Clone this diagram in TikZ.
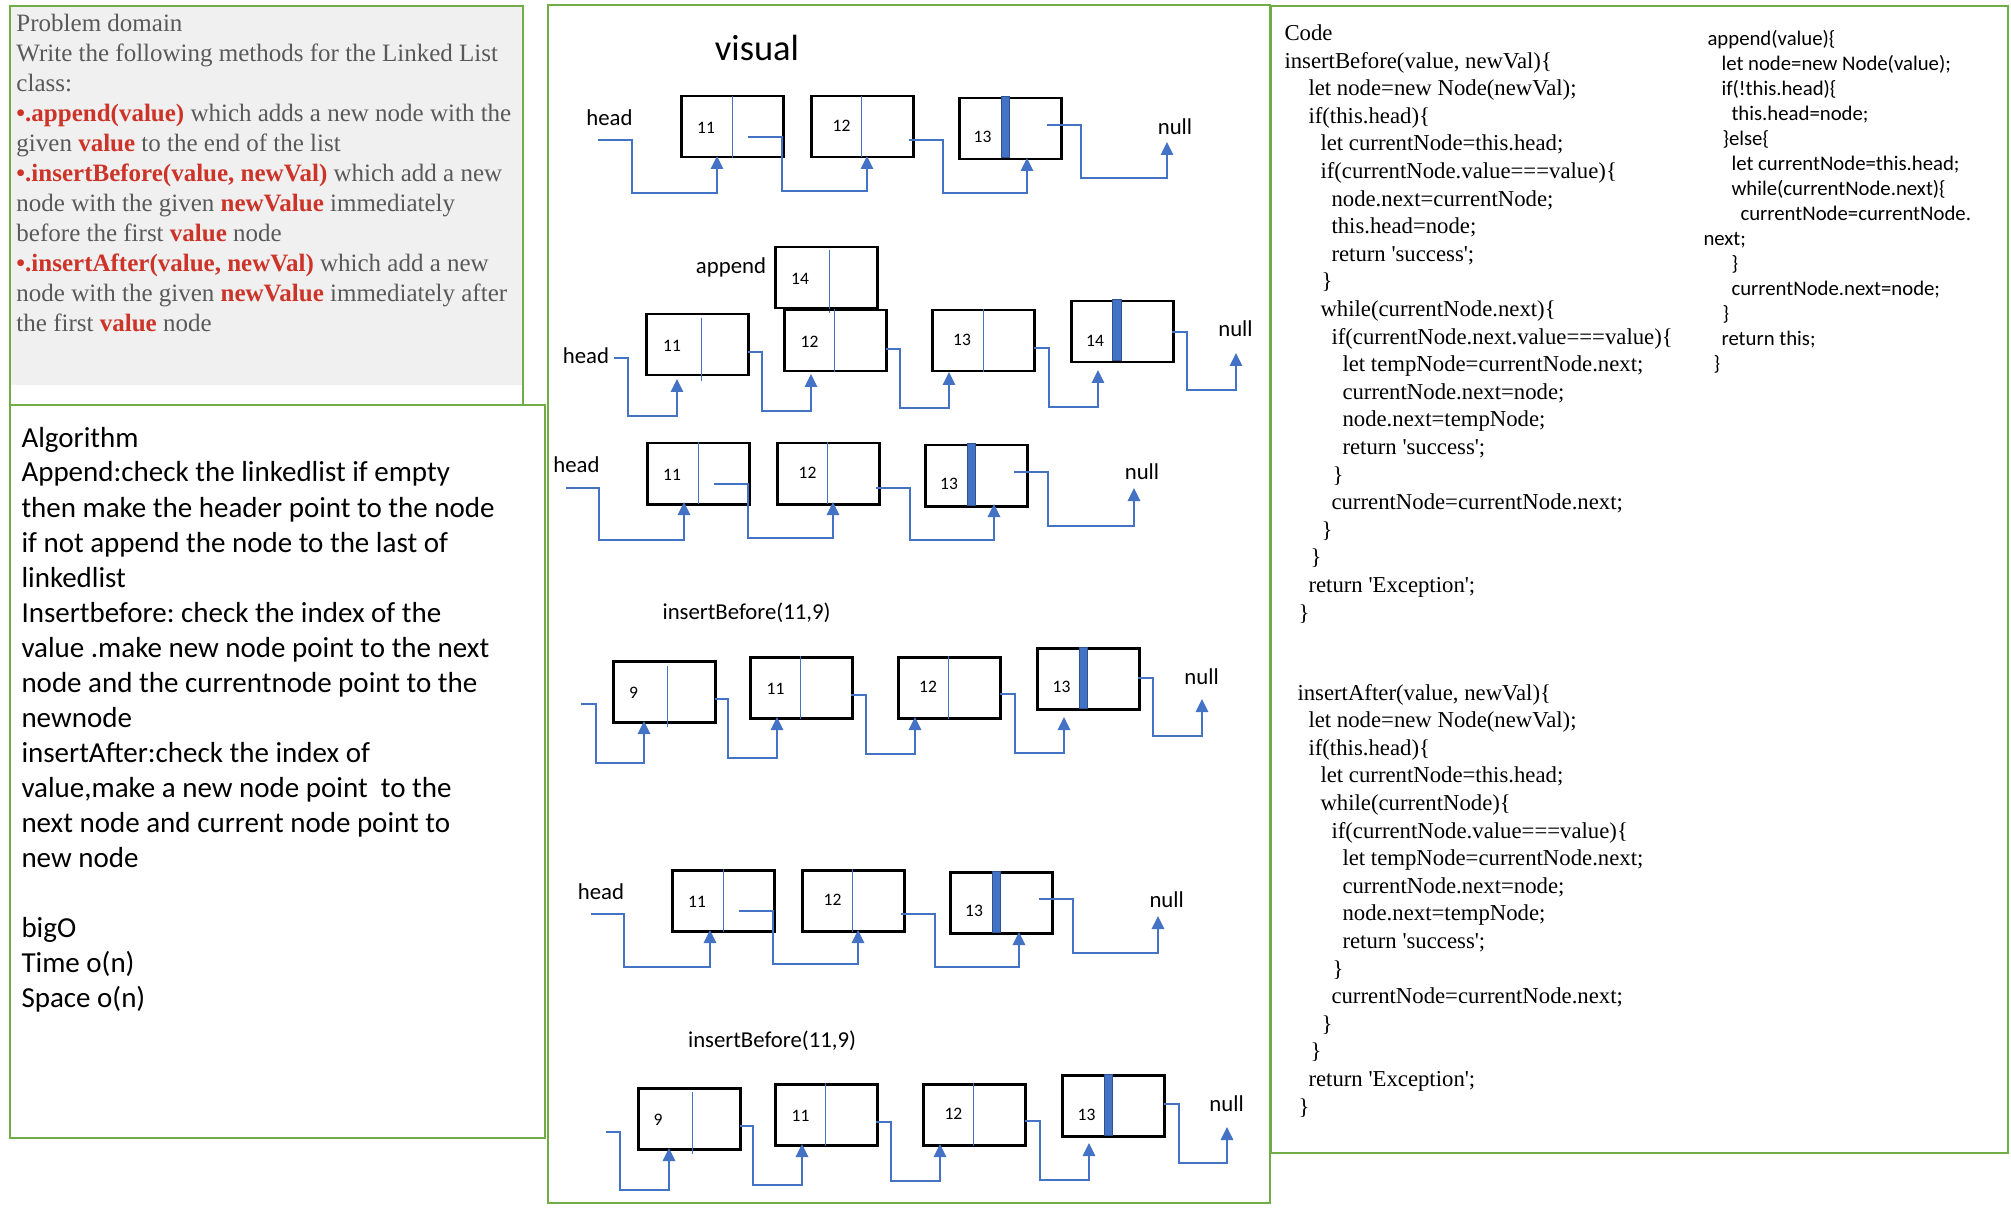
\documentclass[tikz,border=0pt]{standalone}
\usepackage{fontspec}
\setmainfont{Liberation Serif}
\newfontfamily\calibri{Carlito}
\usetikzlibrary{arrows.meta}
\definecolor{pgreen}{RGB}{112,173,71}
\definecolor{pgrey}{RGB}{240,240,240}
\definecolor{ptext}{RGB}{89,89,89}
\definecolor{pred}{RGB}{205,52,41}
\definecolor{lblue}{RGB}{68,114,196}
\definecolor{dblue}{RGB}{47,82,143}
\newcommand\myq{\textquotesingle}
\newcommand\rb[1]{\textcolor{pred}{\textbf{#1}}}
\newcommand\txtline[5]{\node[#2] (#1) at (#3,#4) {#5};}
\newcommand\lnk[7]{%
  \coordinate (#1s) at (#2,#3);
  \coordinate (#1t) at (#6,#7);
  \draw[link] (#1s) -- (#4,#3) -- (#4,#5) -- (#6,#5) -- (#1t);}
\frenchspacing
\begin{document}
\begin{tikzpicture}[x=0.4pt,y=-0.4pt,
  panel/.style={draw=pgreen, line width=0.9pt},
  nbox/.style={draw=black, line width=1pt, minimum width=40.8pt, minimum height=24.4pt, inner sep=0pt, anchor=north west},
  link/.style={draw=lblue, line width=0.55pt, -{Triangle[length=5.2pt,width=5pt]}},
  divider/.style={draw=lblue, line width=0.4pt},
  bar/.style={fill=lblue, draw=dblue, line width=0.4pt},
  lbl/.style={font=\calibri\fontsize{9.1pt}{11pt}\selectfont, inner sep=0pt},
  ttl/.style={font=\calibri\fontsize{14.6pt}{17pt}\selectfont, inner sep=0pt},
  num/.style={font=\calibri\fontsize{7pt}{8pt}\selectfont, inner sep=0pt},
  pdt/.style={font=\fontsize{10pt}{12pt}\selectfont, text=ptext, inner sep=0pt, anchor=base west},
  alg/.style={font=\calibri\fontsize{11.6pt}{14pt}\selectfont, inner sep=0pt, anchor=base west},
  cdl/.style={font=\fontsize{9.1pt}{11pt}\selectfont, inner sep=0pt, anchor=base west},
  cdr/.style={font=\calibri\fontsize{8.3pt}{10pt}\selectfont, inner sep=0pt, anchor=base west}
]
\useasboundingbox (0,0) rectangle (2011,1211);
\fill[white] (0,0) rectangle (2011,1211);

% ---------- panels ----------
\fill[pgrey] (10,6) rectangle (523,385);
\draw[panel] (10,6) rectangle (523,405);
\draw[panel] (10,405) rectangle (545,1138);
\draw[panel] (548,5) rectangle (1270,1203);
\draw[panel] (1271,6) rectangle (2008,1153);

% ---------- problem domain ----------
\txtline{pd1}{pdt}{16}{32}{Problem domain}
\txtline{pd2}{pdt}{16}{62}{Write the following methods for the Linked List}
\txtline{pd3}{pdt}{16}{92}{class:}
\txtline{pd4}{pdt}{16}{122}{\rb{•.append(value)} which adds a new node with the}
\txtline{pd5}{pdt}{16}{152}{given \rb{value} to the end of the list}
\txtline{pd6}{pdt}{16}{182}{\rb{•.insertBefore(value, newVal)} which add a new}
\txtline{pd7}{pdt}{16}{212}{node with the given \rb{newValue} immediately}
\txtline{pd8}{pdt}{16}{242}{before the first \rb{value} node}
\txtline{pd9}{pdt}{16}{272}{\rb{•.insertAfter(value, newVal)} which add a new}
\txtline{pd10}{pdt}{16}{302}{node with the given \rb{newValue} immediately after}
\txtline{pd11}{pdt}{16}{332}{the first \rb{value} node}

% ---------- algorithm ----------
\txtline{al1}{alg}{21}{447}{Algorithm}
\txtline{al2}{alg}{21}{482}{Append:check the linkedlist if empty}
\txtline{al3}{alg}{21}{517}{then make the header point to the node}
\txtline{al4}{alg}{21}{552}{if not append the node to the last of}
\txtline{al5}{alg}{21}{587}{linkedlist}
\txtline{al6}{alg}{21}{622}{Insertbefore: check the index of the}
\txtline{al7}{alg}{21}{657}{value .make new node point to the next}
\txtline{al8}{alg}{21}{692}{node and the currentnode point to the}
\txtline{al9}{alg}{21}{727}{newnode}
\txtline{al10}{alg}{21}{762}{insertAfter:check the index of}
\txtline{al11}{alg}{21}{797}{value,make a new node point\ \ to the}
\txtline{al12}{alg}{21}{832}{next node and current node point to}
\txtline{al13}{alg}{21}{867}{new node}
\txtline{al14}{alg}{21}{937}{bigO}
\txtline{al15}{alg}{21}{972}{Time o(n)}
\txtline{al16}{alg}{21}{1007}{Space o(n)}

% ---------- visual ----------
\node[ttl] (vis) at (757,48) {visual};

% row 1
\node[nbox] (A1) at (680,95) {};
\node[nbox] (A2) at (810,95) {};
\node[nbox] (A3) at (958,97) {};
\draw[divider] (732,96) -- (732,158);
\draw[divider] (861,96) -- (861,157);
\filldraw[bar] (1001,97) rectangle (1009,158);
\node[lbl] (head1) at (609.5,118) {head};
\node[lbl] (null1) at (1175,127) {null};
\node[num] (a11) at (706,128) {11};
\node[num] (a12) at (841.5,126) {12};
\node[num] (a13) at (982.5,137) {13};
\lnk{ha}{598}{140}{632}{193}{717}{156}
\lnk{aa}{748}{137}{782}{191}{867}{156}
\lnk{ab}{909}{140}{943}{193}{1027}{158}
\lnk{ac}{1047}{125}{1081}{178}{1167}{142}

% row 2
\node[nbox] (Bn) at (774,246) {};
\draw[divider] (829,250) -- (829,313);
\node[lbl] (app) at (731,267) {append};
\node[num] (bn14) at (800,279) {14};
\node[nbox] (B1) at (645,313) {};
\node[nbox] (B2) at (783,309) {};
\node[nbox] (B3) at (931,309) {};
\node[nbox] (B4) at (1070,300) {};
\draw[divider] (701,318) -- (701,381);
\draw[divider] (834.5,309) -- (834.5,372);
\draw[divider] (983,309) -- (983,372);
\filldraw[bar] (1112.5,300) rectangle (1121,361);
\node[lbl] (head2) at (586,356) {head};
\node[lbl] (null2) at (1235.5,329) {null};
\node[num] (b11) at (672,346) {11};
\node[num] (b12) at (809.5,342) {12};
\node[num] (b13) at (962,340) {13};
\node[num] (b14) at (1095,341) {14};
\lnk{hb}{614}{358}{628}{416}{677}{379}
\lnk{ba}{748}{352}{762}{411}{811}{374}
\lnk{bb}{886}{349}{900}{408}{949}{372}
\lnk{bc}{1034}{348}{1049}{407}{1098}{370}
\lnk{bd}{1172}{332}{1187}{390}{1236}{353}

% row 3
\node[nbox] (C1) at (646,442) {};
\node[nbox] (C2) at (776,442) {};
\node[nbox] (C3) at (924,444) {};
\draw[divider] (698,442) -- (698,504);
\draw[divider] (827,442) -- (827,504);
\filldraw[bar] (967.5,444) rectangle (975,505);
\node[lbl] (head3) at (576.5,465) {head};
\node[lbl] (null3) at (1142,472) {null};
\node[num] (c11) at (672,475) {11};
\node[num] (c12) at (807.5,473) {12};
\node[num] (c13) at (949,484) {13};
\lnk{hc}{566}{488}{599}{540}{684}{502}
\lnk{ca}{714}{484}{748}{538}{833}{502}
\lnk{cb}{876}{488}{910}{540}{994}{504}
\lnk{cc}{1014}{472}{1048}{526}{1134}{488}

% row 4
\node[lbl] (ib1) at (746.5,613) {insertBefore(11,9)};
\node[nbox] (D0) at (612,660) {};
\node[nbox] (D1) at (749,656) {};
\node[nbox] (D2) at (897,656) {};
\node[nbox] (D3) at (1036,647) {};
\draw[divider] (667,666) -- (667,727);
\draw[divider] (800.5,656) -- (800.5,719);
\draw[divider] (948,656) -- (948,719);
\filldraw[bar] (1079.5,647) rectangle (1087.5,708);
\node[lbl] (null4) at (1201.6,677) {null};
\node[num] (d9) at (633.5,693) {9};
\node[num] (d11) at (775.5,689) {11};
\node[num] (d12) at (928,687) {12};
\node[num] (d13) at (1061.5,687) {13};
\lnk{hd}{581}{704}{596}{763}{644}{721}
\lnk{da}{715}{699}{728}{758}{777}{717}
\lnk{db}{851}{695}{866}{754}{915}{717}
\lnk{dc}{1000}{694}{1015}{753}{1064}{717}
\lnk{dd}{1138}{678}{1153}{736}{1202}{699}

% row 5
\node[nbox] (E1) at (671,869) {};
\node[nbox] (E2) at (801,869) {};
\node[nbox] (E3) at (949,871) {};
\draw[divider] (723,869) -- (723,932);
\draw[divider] (852,869) -- (852,932);
\filldraw[bar] (992.5,871) rectangle (1000.5,932);
\node[lbl] (head5) at (601,892) {head};
\node[lbl] (null5) at (1166.7,900) {null};
\node[num] (e11) at (697,902) {11};
\node[num] (e12) at (832.6,900) {12};
\node[num] (e13) at (974,911) {13};
\lnk{he}{591}{914}{624}{967}{710}{930}
\lnk{ea}{739}{911}{773}{964}{858}{930}
\lnk{eb}{901}{914}{935}{967}{1019}{932}
\lnk{ec}{1039}{899}{1073}{953}{1158}{916}

% row 6
\node[lbl] (ib2) at (772,1041) {insertBefore(11,9)};
\node[nbox] (F0) at (637,1087) {};
\node[nbox] (F1) at (774,1083) {};
\node[nbox] (F2) at (922,1083) {};
\node[nbox] (F3) at (1061,1074) {};
\draw[divider] (692,1092) -- (692,1154);
\draw[divider] (825.5,1083) -- (825.5,1146);
\draw[divider] (973,1083) -- (973,1146);
\filldraw[bar] (1104,1074) rectangle (1112,1135);
\node[lbl] (null6) at (1226.6,1104) {null};
\node[num] (f9) at (658,1120) {9};
\node[num] (f11) at (800.5,1116) {11};
\node[num] (f12) at (953.4,1114) {12};
\node[num] (f13) at (1086.5,1115) {13};
\lnk{hf}{606}{1132}{620}{1190}{669}{1148}
\lnk{fa}{740}{1126}{753}{1185}{802}{1144}
\lnk{fb}{876}{1122}{891}{1181}{940}{1144}
\lnk{fc}{1025}{1121}{1040}{1180}{1089}{1143}
\lnk{fd}{1164}{1104}{1179}{1163}{1227}{1127}

% ---------- code: insertBefore ----------
\txtline{cb0}{cdl}{1284}{40.5}{Code}
\txtline{cb1}{cdl}{1284}{68.1}{insertBefore(value, newVal)\{}
\txtline{cb2}{cdl}{1308}{95.7}{let node=new Node(newVal);}
\txtline{cb3}{cdl}{1308}{123.3}{if(this.head)\{}
\txtline{cb4}{cdl}{1320}{150.9}{let currentNode=this.head;}
\txtline{cb5}{cdl}{1320}{178.5}{if(currentNode.value===value)\{}
\txtline{cb6}{cdl}{1331}{206.1}{node.next=currentNode;}
\txtline{cb7}{cdl}{1331}{233.7}{this.head=node;}
\txtline{cb8}{cdl}{1331}{261.3}{return \myq success\myq;}
\txtline{cb9}{cdl}{1321}{288.9}{\}}
\txtline{cb10}{cdl}{1320}{316.5}{while(currentNode.next)\{}
\txtline{cb11}{cdl}{1331}{344.1}{if(currentNode.next.value===value)\{}
\txtline{cb12}{cdl}{1342}{371.7}{let tempNode=currentNode.next;}
\txtline{cb13}{cdl}{1342}{399.3}{currentNode.next=node;}
\txtline{cb14}{cdl}{1342}{426.9}{node.next=tempNode;}
\txtline{cb15}{cdl}{1342}{454.5}{return \myq success\myq;}
\txtline{cb16}{cdl}{1332}{482.1}{\}}
\txtline{cb17}{cdl}{1331}{509.7}{currentNode=currentNode.next;}
\txtline{cb18}{cdl}{1321}{537.3}{\}}
\txtline{cb19}{cdl}{1310}{564.9}{\}}
\txtline{cb20}{cdl}{1308}{592.5}{return \myq Exception\myq;}
\txtline{cb21}{cdl}{1298}{620.1}{\}}

% ---------- code: insertAfter ----------
\txtline{ca0}{cdl}{1297}{700}{insertAfter(value, newVal)\{}
\txtline{ca1}{cdl}{1308}{727.6}{let node=new Node(newVal);}
\txtline{ca2}{cdl}{1308}{755.2}{if(this.head)\{}
\txtline{ca3}{cdl}{1320}{782.8}{let currentNode=this.head;}
\txtline{ca4}{cdl}{1320}{810.4}{while(currentNode)\{}
\txtline{ca5}{cdl}{1331}{838}{if(currentNode.value===value)\{}
\txtline{ca6}{cdl}{1342}{865.6}{let tempNode=currentNode.next;}
\txtline{ca7}{cdl}{1342}{893.2}{currentNode.next=node;}
\txtline{ca8}{cdl}{1342}{920.8}{node.next=tempNode;}
\txtline{ca9}{cdl}{1342}{948.4}{return \myq success\myq;}
\txtline{ca10}{cdl}{1332}{976}{\}}
\txtline{ca11}{cdl}{1331}{1003.6}{currentNode=currentNode.next;}
\txtline{ca12}{cdl}{1321}{1031.2}{\}}
\txtline{ca13}{cdl}{1310}{1058.8}{\}}
\txtline{ca14}{cdl}{1308}{1086.4}{return \myq Exception\myq;}
\txtline{ca15}{cdl}{1298}{1114}{\}}

% ---------- code: append ----------
\txtline{cr0}{cdr}{1707}{45.5}{append(value)\{}
\txtline{cr1}{cdr}{1721}{70.5}{let node=new Node(value);}
\txtline{cr2}{cdr}{1721}{95.5}{if(!this.head)\{}
\txtline{cr3}{cdr}{1731}{120.5}{this.head=node;}
\txtline{cr4}{cdr}{1722}{145.5}{\}else\{}
\txtline{cr5}{cdr}{1731}{170.5}{let currentNode=this.head;}
\txtline{cr6}{cdr}{1731}{195.5}{while(currentNode.next)\{}
\txtline{cr7}{cdr}{1740}{220.5}{currentNode=currentNode.}
\txtline{cr8}{cdr}{1703}{245.5}{next;}
\txtline{cr9}{cdr}{1731}{270.5}{\}}
\txtline{cr10}{cdr}{1731}{295.5}{currentNode.next=node;}
\txtline{cr11}{cdr}{1722}{320.5}{\}}
\txtline{cr12}{cdr}{1721}{345.5}{return this;}
\txtline{cr13}{cdr}{1713}{370.5}{\}}
\end{tikzpicture}
\end{document}
